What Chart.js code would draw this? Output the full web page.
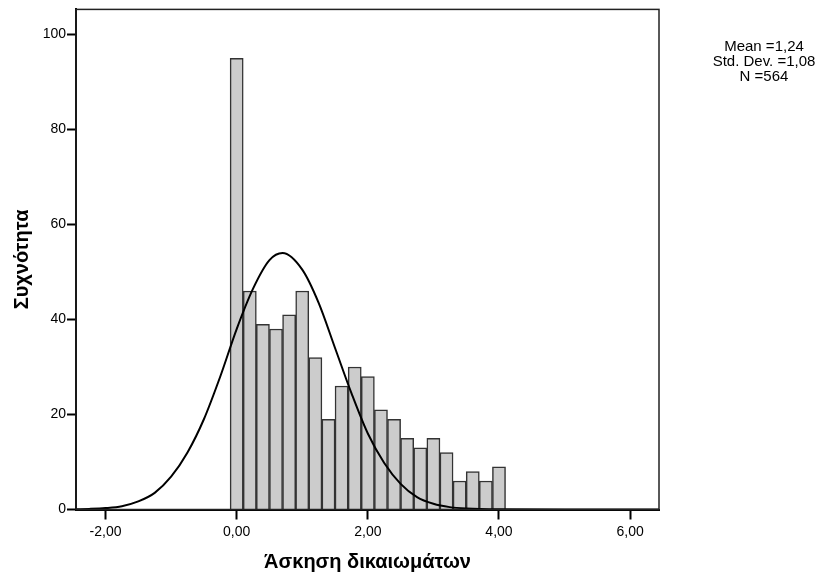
<!DOCTYPE html>
<html lang="el">
<head>
  <meta charset="UTF-8">
  <title>Άσκηση δικαιωμάτων</title>
  <script src="https://cdn.jsdelivr.net/npm/chart.js"></script>
  <style>
    html, body { margin: 0; padding: 0; background: #fff; }
  </style>
</head>
<body>
  <canvas id="histChart" width="822" height="577"></canvas>

  <script>
    // histogram bins (centres) and counts
    const binCenters = [0.0, 0.2, 0.4, 0.6, 0.8, 1.0, 1.2, 1.4, 1.6, 1.8, 2.0,
                        2.2, 2.4, 2.6, 2.8, 3.0, 3.2, 3.4, 3.6, 3.8, 4.0];
    const frequencies = [95, 46, 39, 38, 41, 46, 32, 19, 26, 30, 28,
                         21, 19, 15, 13, 15, 12, 6, 8, 6, 9];

    // normal curve
    const curveX = [-2.45, -2.25, -2.0, -1.75, -1.5, -1.25, -1.0, -0.75, -0.5, -0.25, 0.0,
                    0.25, 0.5, 0.7, 1.0, 1.25, 1.5, 1.75, 2.0, 2.25, 2.5, 2.75, 3.0,
                    3.25, 3.5, 4.0, 5.0, 6.44];
    const curveY = [0.05, 0.12, 0.3, 0.7, 1.7, 3.5, 6.9, 12, 19, 28, 38,
                    46.5, 52.5, 54, 50.5, 43.5, 34, 24.5, 16, 9.8, 5.4, 2.6, 1.2,
                    0.5, 0.2, 0.03, 0, 0];

    const xTicks = [-2, 0, 2, 4, 6];
    const yTicks = [0, 20, 40, 60, 80, 100];
    const statLines = ['Mean =1,24', 'Std. Dev. =1,08', 'N =564'];

    const fontFamily = '"Liberation Sans", Arial, sans-serif';

    // box round the plot + the stats text on the right
    const framePlugin = {
      id: 'frame',
      afterDatasetsDraw(chart) {
        const { ctx, chartArea: a } = chart;
        ctx.save();
        ctx.strokeStyle = '#222';
        ctx.lineWidth = 1.5;
        ctx.strokeRect(a.left, a.top, a.right - a.left, a.bottom - a.top);
        ctx.restore();
      },
      afterDraw(chart) {
        const ctx = chart.ctx;
        ctx.save();
        ctx.fillStyle = '#000';
        ctx.font = '15px ' + fontFamily;
        ctx.textAlign = 'center';
        ctx.textBaseline = 'middle';
        statLines.forEach((t, i) => ctx.fillText(t, 764, 47 + i * 15));
        ctx.restore();
      }
    };

    const fmt = v => v.toFixed(2).replace('.', ',');

    const ctx = document.getElementById('histChart').getContext('2d');
    const histChart = new Chart(ctx, {
      type: 'bar',
      data: {
        datasets: [{
          type: 'line',
          data: curveX.map((x, i) => ({ x: x, y: curveY[i] })),
          borderColor: '#000',
          borderWidth: 2,
          pointRadius: 0,
          cubicInterpolationMode: 'monotone',
          fill: false,
          order: 0
        }, {
          type: 'bar',
          data: binCenters.map((x, i) => ({ x: x, y: frequencies[i] })),
          backgroundColor: '#cccccc',
          borderColor: '#333',
          borderWidth: 1.5,
          barPercentage: 1,
          categoryPercentage: 1,
          order: 1
        }]
      },
      options: {
        responsive: false,
        animation: false,
        devicePixelRatio: 1,
        layout: { padding: { top: 9, right: 163, left: 0, bottom: 0 } },
        plugins: {
          legend: { display: false },
          tooltip: { enabled: false }
        },
        scales: {
          x: {
            type: 'linear',
            min: -2.45,
            max: 6.44,
            offset: false,
            afterBuildTicks: s => { s.ticks = xTicks.map(v => ({ value: v })); },
            afterFit: s => { s.height = 67.5; },
            grid: { display: true, offset: false, drawOnChartArea: false, drawTicks: true,
                    tickLength: 10, tickWidth: 2, tickColor: '#000' },
            border: { display: true, color: '#000', width: 2 },
            ticks: {
              color: '#000',
              padding: 4,
              maxRotation: 0,
              font: { family: fontFamily, size: 14 },
              callback: v => fmt(v)
            },
            title: {
              display: true,
              text: 'Άσκηση δικαιωμάτων',
              color: '#000',
              padding: { top: 0, bottom: 3 },
              font: { family: fontFamily, size: 20, weight: 'bold' }
            }
          },
          y: {
            min: 0,
            max: 105.3,
            afterBuildTicks: s => { s.ticks = yTicks.map(v => ({ value: v })); },
            afterFit: s => { s.width = 76; },
            grid: { display: true, drawOnChartArea: false, drawTicks: true,
                    tickLength: 9, tickWidth: 2, tickColor: '#000' },
            border: { display: true, color: '#000', width: 2 },
            ticks: {
              color: '#000',
              padding: 1,
              font: { family: fontFamily, size: 14 }
            },
            title: {
              display: true,
              text: 'Συχνότητα',
              color: '#000',
              padding: { top: 10, bottom: 0 },
              font: { family: fontFamily, size: 20, weight: 'bold' }
            }
          }
        }
      },
      plugins: [framePlugin]
    });
  </script>
</body>
</html>
